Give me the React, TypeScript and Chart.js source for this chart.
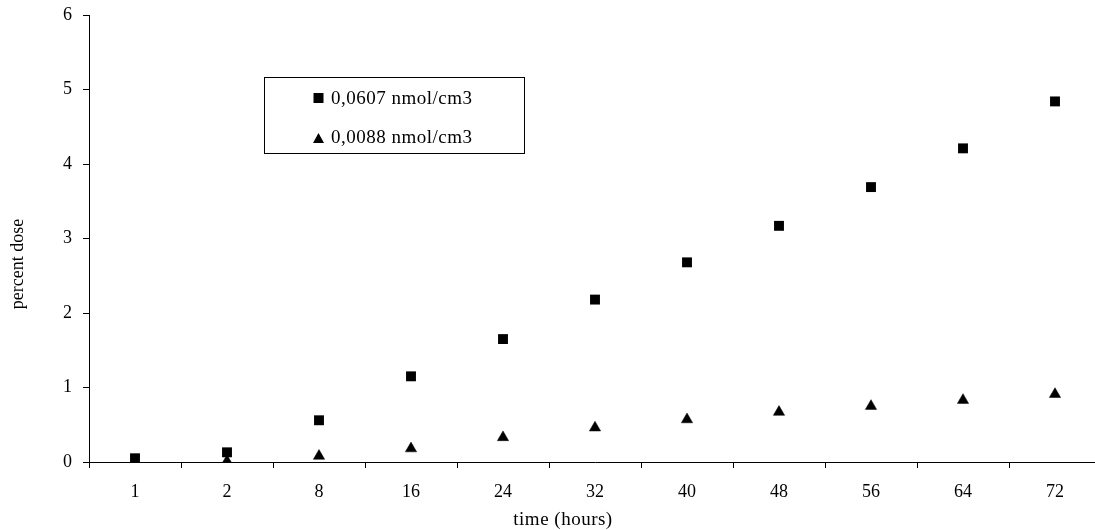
import React, { useEffect, useRef } from 'react';
import { Chart, registerables } from 'chart.js';

Chart.register(...registerables);

const categories = ['1', '2', '8', '16', '24', '32', '40', '48', '56', '64', '72'];
const seriesHighLabel = '0,0607 nmol/cm3';
const seriesHigh = [0.05, 0.13, 0.56, 1.15, 1.65, 2.18, 2.68, 3.17, 3.69, 4.21, 4.84];
const seriesLowLabel = '0,0088 nmol/cm3';
const seriesLow = [0.01, 0.01, 0.08, 0.18, 0.33, 0.46, 0.57, 0.67, 0.75, 0.83, 0.91];
const yMin = 0;
const yMax = 6;
const yStep = 1;
const xTitle = 'time (hours)';
const yTitle = 'percent dose';

const SERIF = '"Liberation Serif", "Times New Roman", serif';

const textPlugin = {
  id: 'customText',
  afterDraw(chart: any) {
    const ctx = chart.ctx as CanvasRenderingContext2D;
    ctx.save();
    ctx.fillStyle = '#000';
    // x title
    (ctx as any).letterSpacing = '0.5px';
    ctx.font = `19px ${SERIF}`;
    ctx.textAlign = 'center';
    ctx.textBaseline = 'middle';
    ctx.fillText(xTitle, 563, 520);
    // y title
    ctx.save();
    ctx.translate(18, 264);
    ctx.rotate(-Math.PI / 2);
    ctx.font = `18px ${SERIF}`;
    (ctx as any).letterSpacing = '0px';
    ctx.fillText(yTitle, 0, 0);
    ctx.restore();

    // legend box
    const bx = 264, by = 77, bw = 260, bh = 76;
    ctx.fillStyle = '#fff';
    ctx.fillRect(bx, by, bw, bh);
    ctx.strokeStyle = '#000';
    ctx.lineWidth = 1;
    ctx.strokeRect(bx + 0.5, by + 0.5, bw, bh);
    const rows = [98, 137];
    ctx.font = `19px ${SERIF}`;
    (ctx as any).letterSpacing = '0.5px';
    ctx.textAlign = 'left';
    ctx.textBaseline = 'middle';
    chart.data.datasets.forEach((ds: any, i: number) => {
      const y = rows[i];
      const mx = 318.5;
      ctx.fillStyle = '#000';
      if (ds.pointStyle === 'rect') {
        ctx.fillRect(mx - 5, y - 5, 10, 10);
      } else {
        ctx.beginPath();
        ctx.moveTo(mx, y - 4);
        ctx.lineTo(mx + 5.5, y + 6);
        ctx.lineTo(mx - 5.5, y + 6);
        ctx.closePath();
        ctx.fill();
      }
      ctx.fillText(ds.label, 331, y + 1);
    });
    ctx.restore();
  },
};

export default function App() {
  const canvasRef = useRef<HTMLCanvasElement | null>(null);

  useEffect(() => {
    document.body.style.margin = '0';
    document.body.style.overflow = 'hidden';
    document.documentElement.style.overflow = 'hidden';
    const canvas = canvasRef.current;
    if (!canvas) return;
    const chart = new Chart(canvas, {
      type: 'line',
      data: {
        labels: categories,
        datasets: [
          {
            label: seriesHighLabel,
            data: seriesHigh,
            showLine: false,
            pointStyle: 'rect',
            pointRadius: 7,
            pointBackgroundColor: '#000',
            pointBorderColor: '#000',
            pointBorderWidth: 0,
            borderColor: '#000',
            backgroundColor: '#000',
          },
          {
            label: seriesLowLabel,
            data: seriesLow,
            showLine: false,
            pointStyle: 'triangle',
            pointRadius: 6.5,
            pointBackgroundColor: '#000',
            pointBorderColor: '#000',
            pointBorderWidth: 0.5,
            borderColor: '#000',
            backgroundColor: '#000',
          },
        ],
      },
      options: {
        responsive: false,
        animation: false,
        devicePixelRatio: 1,
        layout: { padding: { top: 15, right: 9, left: 0, bottom: 0 } },
        plugins: {
          legend: { display: false },
          tooltip: { enabled: false },
          title: { display: false },
        },
        scales: {
          x: {
            type: 'category',
            offset: true,
            grid: {
              display: true,
              offset: true,
              drawOnChartArea: false,
              drawTicks: true,
              tickLength: 6,
              color: '#000',
            },
            border: { display: true, color: '#000', width: 1 },
            ticks: {
              color: '#000',
              font: { family: SERIF, size: 18 },
              padding: 13,
              maxRotation: 0,
              autoSkip: false,
            },
            afterFit(scale: any) {
              scale.height = 68;
              scale.paddingLeft = 0;
              scale.paddingRight = 0;
            },
          },
          y: {
            min: yMin,
            max: yMax,
            grid: {
              display: true,
              drawOnChartArea: false,
              drawTicks: true,
              tickLength: 6,
              color: '#000',
            },
            border: { display: true, color: '#000', width: 1 },
            ticks: {
              stepSize: yStep,
              color: '#000',
              font: { family: SERIF, size: 18 },
              padding: 11,
            },
            afterFit(scale: any) {
              scale.width = 89;
              scale.paddingTop = 0;
              scale.paddingBottom = 0;
            },
          },
        },
      },
      plugins: [textPlugin],
    });
    return () => chart.destroy();
  }, []);

  return (
    <div style={{ width: 1095, height: 530, overflow: 'hidden', position: 'relative', background: '#fff' }}>
      <canvas ref={canvasRef} width={1110} height={530} style={{ width: 1110, height: 530, display: 'block' }} />
    </div>
  );
}
